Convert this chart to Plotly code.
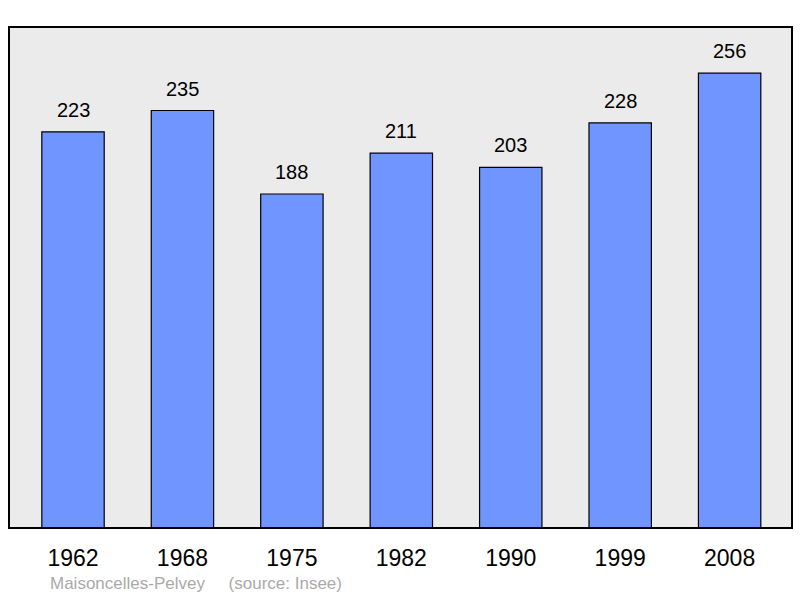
import plotly.graph_objects as go

years = ["1962", "1968", "1975", "1982", "1990", "1999", "2008"]
population = [223, 235, 188, 211, 203, 228, 256]
positions = list(range(len(years)))

fig = go.Figure()
fig.add_trace(go.Bar(
    x=positions, y=population, width=0.57,
    marker=dict(color="#7095ff", line=dict(color="#000000", width=1.2)),
    hoverinfo="skip",
))
for xi, v in zip(positions, population):
    fig.add_annotation(x=xi, y=v, text=str(v), showarrow=False,
                       yanchor="bottom", yshift=9,
                       font=dict(family="Liberation Sans, Arial", size=20, color="#000"))

fig.add_shape(type="rect", xref="paper", yref="paper", x0=0, y0=0, x1=1, y1=1,
              line=dict(color="#000", width=2), layer="above")

fig.add_annotation(xref="paper", yref="paper", x=39/783, y=-0.11,
                   xanchor="left", yanchor="middle", showarrow=False,
                   text="Maisoncelles-Pelvey &nbsp;&nbsp;&nbsp; (source: Insee)",
                   font=dict(family="Liberation Sans, Arial", size=17, color="#aaaaaa"))

fig.update_layout(
    width=800, height=598,
    margin=dict(l=9, r=8, t=27, b=70, autoexpand=False),
    paper_bgcolor="#ffffff", plot_bgcolor="#ebebeb",
    showlegend=False,
    xaxis=dict(range=[-0.585, 6.57], tickvals=positions, ticktext=years,
               showgrid=False, zeroline=False, ticks="", ticklabelstandoff=14,
               tickfont=dict(family="Liberation Sans, Arial", size=23, color="#000")),
    yaxis=dict(range=[0, 282], showgrid=False, zeroline=False, showticklabels=False, ticks=""),
)
fig.write_html("out.html", config={"displayModeBar": False},
               post_script="document.body.style.margin='0';document.body.style.overflow='hidden';")
